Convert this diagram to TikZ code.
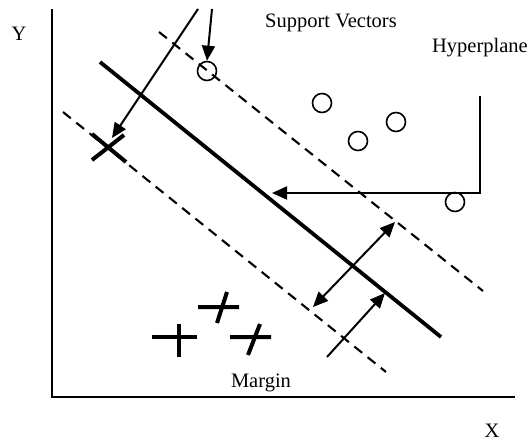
\documentclass[tikz,border=0pt]{standalone}
\usepackage{fontspec}
\setmainfont{Liberation Serif}
\usetikzlibrary{arrows.meta}

\begin{document}
\begin{tikzpicture}[x=1pt,y=-1pt,>=Triangle,
 axis/.style={line width=2pt},
 hyper/.style={line width=3.8pt},
 marginline/.style={line width=2.1pt,dash pattern=on 10pt off 7pt},
 pointer/.style={line width=2pt,-{Triangle[length=15pt,width=13pt]}},
 twoway/.style={line width=2pt,{Triangle[length=15pt,width=13pt]}-{Triangle[length=15pt,width=13pt]}},
 sample/.style={circle,draw,line width=1.6pt,minimum size=19pt,inner sep=0pt},
 stroke/.style={line width=4pt},
 lbl/.style={font=\fontsize{20.5}{24}\selectfont,anchor=base,inner sep=0pt}]
\useasboundingbox (0,0) rectangle (530,441);
% axes
\coordinate (top) at (52,9);
\coordinate (orig) at (52,397);
\coordinate (right) at (515,397);
\draw[axis] (top) -- (orig) -- (right);
\node[lbl] (ylab) at (19,41) {Y};
\node[lbl] (xlab) at (492,437) {X};
% hyperplane and margins
\draw[hyper] (100,62) -- (441,337);
\draw[marginline] (159,32) -- (483,291);
\draw[marginline] (63,112) -- (386,372);
% circles
\node[sample] (sv1) at (207,71) {};
\node[sample] (c2) at (322,103) {};
\node[sample] (c3) at (396,122) {};
\node[sample] (c4) at (358,141) {};
\node[sample] (c5) at (455,202) {};
% crosses
\coordinate (xsv) at (108,147);
\draw[stroke] (92,134) -- (126,162) (92,160) -- (124,135);
\draw[stroke] (152,337) -- (197,337) (179,324) -- (179,357);
\draw[stroke] (198,307) -- (239,307) (227,292) -- (217,323);
\draw[stroke] (230,337) -- (271,337) (260,324) -- (248,355);
% labels
\node[lbl] (svlab) at (331,28) {Support Vectors};
\node[lbl] (hplab) at (480,53) {Hyperplane};
\node[lbl] (mglab) at (261,387) {Margin};
% pointers
\coordinate (pa) at (198,9);
\coordinate (pb) at (212,9);
\coordinate (xtip) at (112,138);
\draw[pointer] (pa) -- (xtip);
\draw[pointer] (pb) -- (sv1.north);
\coordinate (hpa) at (480,96);
\coordinate (hptip) at (272,193);
\draw[pointer] (hpa) |- (hptip);
\coordinate (mu) at (395,222);
\coordinate (ml) at (313,307);
\draw[twoway] (ml) -- (mu);
\coordinate (ma) at (327,357);
\coordinate (mtip) at (385,293);
\draw[pointer] (ma) -- (mtip);
\end{tikzpicture}
\end{document}
